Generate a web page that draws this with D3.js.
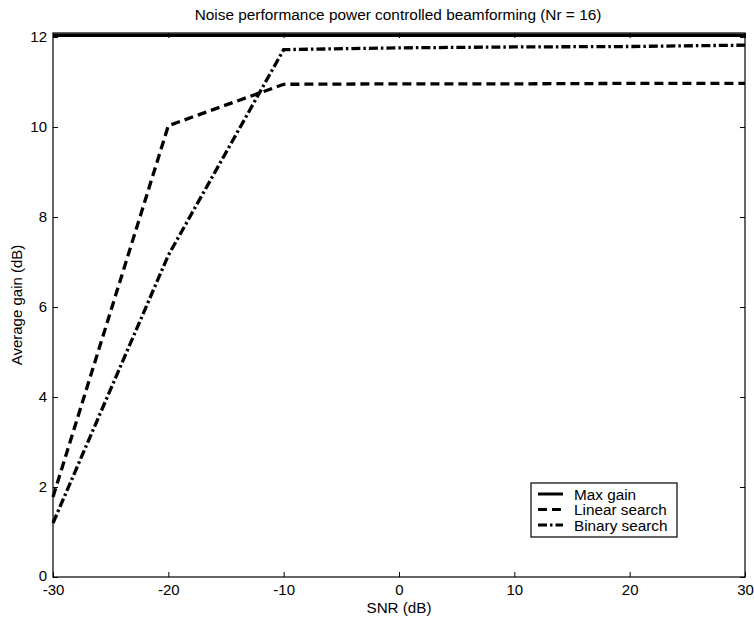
<!DOCTYPE html>
<html><head><meta charset="utf-8">
<script src="https://cdn.jsdelivr.net/npm/d3@7"></script>
<style>
body{margin:0;background:#fff;}
text{font-family:"Liberation Sans",Arial,Helvetica,sans-serif;fill:#000;}
</style></head>
<body>
<svg id="c" width="754" height="621"></svg>
<script>
const snr = [-30, -20, -10, 0, 10, 20, 30];
const maxGain = [12.04, 12.04, 12.04, 12.04, 12.04, 12.04, 12.04];
const linearSearch = [1.78, 10.03, 10.95, 10.96, 10.96, 10.97, 10.97];
const binarySearch = [1.2, 7.15, 11.72, 11.76, 11.78, 11.79, 11.82];
const xTicks = [-30, -20, -10, 0, 10, 20, 30];
const yTicks = [0, 2, 4, 6, 8, 10, 12];
const seriesNames = ["Max gain", "Linear search", "Binary search"];

const svg = d3.select("#c");
const L = 53, R = 745, T = 33, B = 577;
const x = d3.scaleLinear().domain([-30, 30]).range([L, R]);
const y = d3.scaleLinear().domain([0, 12.09]).range([B, T]);
const fmt = d => String(d);

// axes
const fs = "15px";
const xb = svg.append("g").attr("transform", `translate(0,${B})`)
  .call(d3.axisBottom(x).tickValues(xTicks).tickFormat(fmt).tickSizeInner(-5).tickSizeOuter(0).tickPadding(7));
const yl = svg.append("g").attr("transform", `translate(${L},0)`)
  .call(d3.axisLeft(y).tickValues(yTicks).tickFormat(fmt).tickSizeInner(-5).tickSizeOuter(0).tickPadding(6));
const xt = svg.append("g").attr("transform", `translate(0,${T})`)
  .call(d3.axisTop(x).tickValues(xTicks).tickSizeInner(-5).tickSizeOuter(0).tickFormat(""));
const yr = svg.append("g").attr("transform", `translate(${R},0)`)
  .call(d3.axisRight(y).tickValues(yTicks).tickSizeInner(-5).tickSizeOuter(0).tickFormat(""));
[xb, yl, xt, yr].forEach(g => {
  g.select(".domain").remove();
  g.selectAll("line").attr("stroke", "#000");
  g.selectAll("text").style("font-size", fs).style("font-family", "'Liberation Sans',Arial,sans-serif");
});
xb.selectAll("text").attr("dy", "0.75em");
yl.selectAll("text").filter(d => d === 0).attr("dy", "0.2em");
svg.append("rect").attr("x", L).attr("y", T).attr("width", R - L).attr("height", B - T)
  .attr("fill", "none").attr("stroke", "#000").attr("stroke-width", 1.2);

// lines
const line = d3.line().x((d, i) => x(snr[i])).y(d => y(d));
const styles = [
  {data: maxGain, dash: null, w: 3.4},
  {data: linearSearch, dash: "9,5", w: 3.3},
  {data: binarySearch, dash: "9,3,2.5,3", w: 3.3}
];
styles.forEach(s => {
  svg.append("path").datum(s.data).attr("d", line)
    .attr("fill", "none").attr("stroke", "#000").attr("stroke-width", s.w)
    .attr("stroke-dasharray", s.dash);
});

// title and labels
svg.append("text").attr("x", 398).attr("y", 20).attr("text-anchor", "middle")
  .style("font-size", "15.4px").text("Noise performance power controlled beamforming (Nr = 16)");
svg.append("text").attr("x", 399).attr("y", 613).attr("text-anchor", "middle")
  .style("font-size", "15.2px").text("SNR (dB)");
svg.append("text").attr("transform", `translate(22,${(T + B) / 2}) rotate(-90)`).attr("text-anchor", "middle")
  .style("font-size", "15px").text("Average gain (dB)");

// legend
const lg = svg.append("g").attr("transform", "translate(531,483)");
lg.append("rect").attr("width", 146).attr("height", 54).attr("fill", "#fff").attr("stroke", "#000").attr("stroke-width", 1.2);
styles.forEach((s, i) => {
  const yy = 11 + i * 15.5;
  lg.append("line").attr("x1", 7).attr("x2", 32).attr("y1", yy).attr("y2", yy)
    .attr("stroke", "#000").attr("stroke-width", 3).attr("stroke-dasharray", s.dash);
  lg.append("text").attr("x", 43).attr("y", yy + 5.5).style("font-size", "15.3px").text(seriesNames[i]);
});
</script>
</body></html>
